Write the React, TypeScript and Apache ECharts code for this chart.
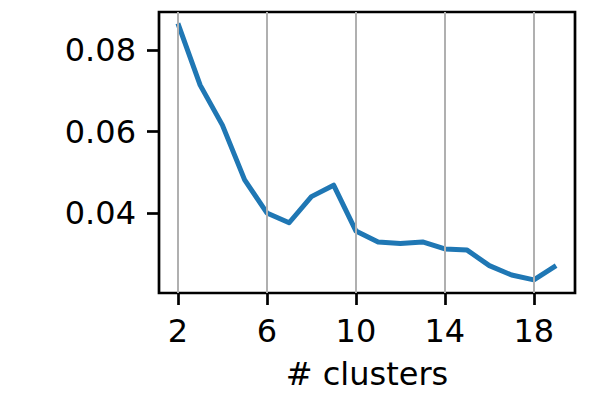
import React, { useEffect, useRef } from "react";
import * as echarts from "echarts";

const clusters = [2, 3, 4, 5, 6, 7, 8, 9, 10, 11, 12, 13, 14, 15, 16, 17, 18, 19];
const values = [0.0865, 0.0714, 0.0616, 0.0482, 0.0401, 0.0377, 0.0441, 0.0469, 0.0357, 0.0330, 0.0326, 0.0330, 0.0313, 0.0310, 0.0272, 0.0249, 0.0237, 0.0272];
const xTicks = [2, 6, 10, 14, 18];
const yTicks = [0.04, 0.06, 0.08];
const xLabel = "# clusters";

export default function App() {
  const ref = useRef<HTMLDivElement>(null);
  useEffect(() => {
    if (!ref.current) return;
    const chart = echarts.init(ref.current, undefined, { renderer: "svg" });
    const font = "DejaVu Sans";
    chart.setOption({
      animation: false,
      backgroundColor: "#ffffff",
      grid: {
        left: 159,
        top: 12,
        right: 23,
        bottom: 118,
        show: true,
        borderColor: "#000000",
        borderWidth: 2.7,
        backgroundColor: "transparent",
      },
      xAxis: {
        type: "value",
        min: 1.15,
        max: 19.85,
        name: xLabel,
        nameLocation: "middle",
        nameGap: 65,
        nameTextStyle: { fontFamily: font, fontSize: 32, color: "#000" },
        axisLine: { show: false },
        axisTick: {
          show: true,
          customValues: xTicks,
          length: 12,
          lineStyle: { color: "#000", width: 2.7 },
        },
        axisLabel: {
          customValues: xTicks,
          margin: 22,
          fontFamily: font,
          fontSize: 32,
          color: "#000",
          formatter: (v: number) => String(v),
        },
        splitLine: { show: false },
      },
      yAxis: {
        type: "value",
        min: 0.0205,
        max: 0.0893,
        axisLine: { show: false },
        axisTick: {
          show: true,
          customValues: yTicks,
          length: 12,
          lineStyle: { color: "#000", width: 2.7 },
        },
        axisLabel: {
          customValues: yTicks,
          margin: 23,
          fontFamily: font,
          fontSize: 32,
          color: "#000",
          formatter: (v: number) => v.toFixed(2),
        },
        splitLine: { show: false },
      },
      series: [
        {
          type: "line",
          data: [],
          z: 1,
          silent: true,
          markLine: {
            silent: true,
            symbol: "none",
            label: { show: false },
            lineStyle: { color: "#b0b0b0", width: 2, type: "solid" },
            data: xTicks.map((t) => ({ xAxis: t })),
          },
        },
        {
          type: "line",
          z: 3,
          data: clusters.map((c, i) => [c, values[i]]),
          showSymbol: false,
          lineStyle: { color: "#1f77b4", width: 5, join: "round" },
          itemStyle: { color: "#1f77b4" },
        },
      ],
    });
    return () => chart.dispose();
  }, []);
  return (
    <div
      ref={ref}
      style={{ position: "fixed", left: 0, top: 0, width: 598, height: 411 }}
    />
  );
}
